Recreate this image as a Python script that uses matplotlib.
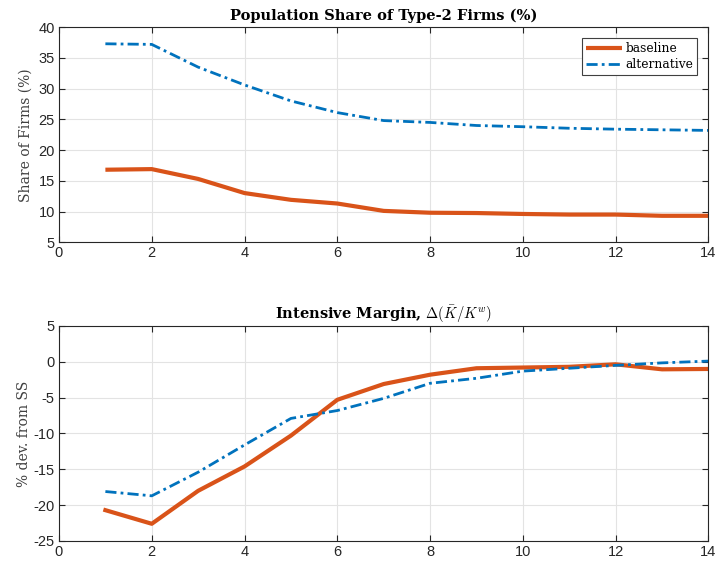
import matplotlib
matplotlib.use("Agg")
import matplotlib.pyplot as plt

plt.rcParams["mathtext.fontset"] = "cm"

periods = list(range(1, 15))

share_baseline = [16.8, 16.9, 15.3, 13.0, 11.9, 11.3, 10.1, 9.8, 9.75, 9.6, 9.5, 9.5, 9.3, 9.3]
share_alternative = [37.3, 37.2, 33.5, 30.6, 28.0, 26.1, 24.8, 24.5, 24.0, 23.8, 23.55, 23.4, 23.3, 23.2]

margin_baseline = [-20.7, -22.6, -18.0, -14.6, -10.3, -5.3, -3.1, -1.8, -0.9, -0.8, -0.7, -0.35, -1.05, -1.0]
margin_alternative = [-18.1, -18.7, -15.4, -11.6, -7.9, -6.8, -5.1, -3.0, -2.3, -1.3, -0.9, -0.5, -0.15, 0.1]

series_labels = ["baseline", "alternative"]
x_ticks = [0, 2, 4, 6, 8, 10, 12, 14]
top_yticks = [5, 10, 15, 20, 25, 30, 35, 40]
bottom_yticks = [-25, -20, -15, -10, -5, 0, 5]

ORANGE = "#D95319"
BLUE = "#0072BD"

fig = plt.figure(figsize=(7.16, 5.62), dpi=100)
ax1 = fig.add_axes([0.0824, 0.569, 0.907, 0.3826])
ax2 = fig.add_axes([0.0824, 0.0374, 0.907, 0.3826])

tick_font = {"family": "Liberation Sans", "size": 10.5}


def style(ax, yticks):
    ax.set_xlim(0, 14)
    ax.set_ylim(yticks[0], yticks[-1])
    ax.set_xticks(x_ticks)
    ax.set_yticks(yticks)
    ax.set_xticklabels([str(t) for t in x_ticks], fontdict=tick_font)
    ax.set_yticklabels([str(t) for t in yticks], fontdict=tick_font)
    ax.grid(True, color="#e3e3e3", linewidth=0.8)
    ax.set_axisbelow(True)
    ax.tick_params(direction="in", top=True, right=True, length=4,
                   width=0.8, colors="#262626", pad=3)
    for sp in ax.spines.values():
        sp.set_color("#262626")
        sp.set_linewidth(0.8)


ax1.plot(periods, share_baseline, color=ORANGE, linewidth=3.0,
         label=series_labels[0], solid_capstyle="butt")
ax1.plot(periods, share_alternative, color=BLUE, linewidth=2.0,
         dashes=(4, 1.5, 1, 1.5), label=series_labels[1])
style(ax1, top_yticks)
ax1.set_title("Population Share of Type-2 Firms (%)", family="DejaVu Serif",
              fontweight="bold", fontsize=10.5, pad=5)
ax1.set_ylabel("Share of Firms (%)", family="DejaVu Serif", fontsize=10,
               color="#404040", labelpad=4)
leg = ax1.legend(loc="upper right", prop={"family": "DejaVu Serif", "size": 8.8},
                 fancybox=False, edgecolor="#404040", framealpha=1,
                 handlelength=3.0, borderpad=0.3, labelspacing=0.25,
                 handletextpad=0.3, borderaxespad=0.9)
leg.get_frame().set_linewidth(0.8)

ax2.plot(periods, margin_baseline, color=ORANGE, linewidth=3.0,
         label=series_labels[0])
ax2.plot(periods, margin_alternative, color=BLUE, linewidth=2.0,
         dashes=(4, 1.5, 1, 1.5), label=series_labels[1])
style(ax2, bottom_yticks)
ax2.set_title(r"Intensive Margin, $\Delta(\bar{K}/K^w)$", family="DejaVu Serif",
              fontweight="bold", fontsize=10.5, pad=5)
ax2.set_ylabel("% dev. from SS", family="DejaVu Serif", fontsize=10,
               color="#404040", labelpad=2)

fig.savefig("out.png", dpi=100)
